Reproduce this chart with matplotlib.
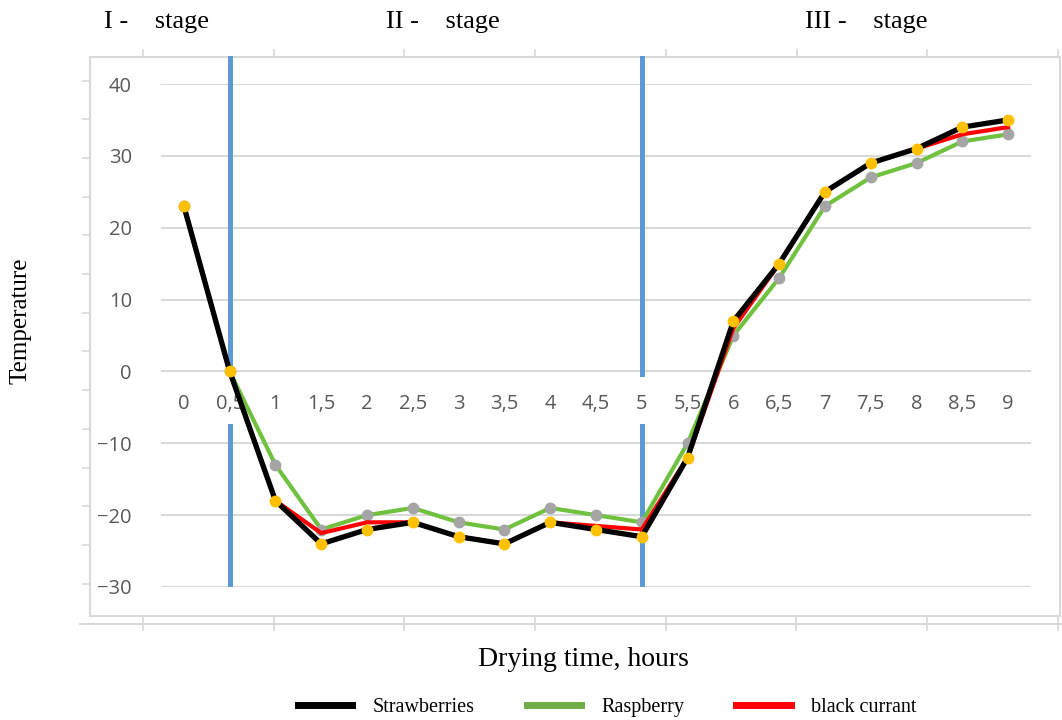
import numpy as np
import matplotlib
matplotlib.use("Agg")
import matplotlib.pyplot as plt
from matplotlib.ticker import FixedLocator

# Drying time categories (hours), Excel style labels with comma
time_labels = ["0", "0,5", "1", "1,5", "2", "2,5", "3", "3,5", "4", "4,5",
               "5", "5,5", "6", "6,5", "7", "7,5", "8", "8,5", "9"]

strawberries = [23, 0, -18, -24, -22, -21, -23, -24, -21, -22,
                -23, -12, 7, 15, 25, 29, 31, 34, 35]
raspberry = [23, 0, -13, -22, -20, -19, -21, -22, -19, -20,
             -21, -10, 5, 13, 23, 27, 29, 32, 33]
black_currant = [23, 0, -18, -22.5, -21, -21, -23, -24, -21, -21.5,
                 -22, -12, 6, 15, 25, 29, 31, 33, 34]

stage_bounds = [1, 10]          # category index of the blue separators
stage_names = ["I -    stage", "II -    stage", "III -    stage"]
y_ticks = [-30, -20, -10, 0, 10, 20, 30, 40]

W, H = 1062, 720
fig = plt.figure(figsize=(W / 100, H / 100), dpi=100)

serif = "Liberation Serif"
grid_col = "#d9d9d9"
lab_col = "#595959"


def px_box(left, top, right, bottom):
    return [left / W, 1 - bottom / H, (right - left) / W, (bottom - top) / H]


# outer frame of the chart object (light gray border with ruler ticks)
frame = fig.add_axes(px_box(90, 57, 1060, 616))
frame.set_xlim(90, 1060)
frame.set_ylim(616, 57)
for s in frame.spines.values():
    s.set_color(grid_col)
    s.set_linewidth(1.5)
frame.xaxis.tick_top()
frame.xaxis.set_major_locator(FixedLocator(np.arange(143, 1061, 130.7)))
frame.yaxis.set_major_locator(FixedLocator(np.arange(80.6, 616, 38.7)))
frame.tick_params(colors=grid_col, length=6, width=1.2, labeltop=False, labelleft=False)

ruler = fig.add_axes(px_box(80, 622, 1062, 623.5))
ruler.set_xlim(80, 1062)
ruler.patch.set_visible(False)
for k in ["top", "left", "right"]:
    ruler.spines[k].set_visible(False)
ruler.spines["bottom"].set_color(grid_col)
ruler.spines["bottom"].set_linewidth(1.5)
ruler.set_yticks([])
ruler.xaxis.set_major_locator(FixedLocator(np.arange(143, 1061, 130.7)))
ruler.tick_params(axis="x", direction="inout", length=10, width=1.2,
                  colors=grid_col, labelbottom=False)

# main plot
ax = fig.add_axes(px_box(161, 84, 1031, 587))
ax.patch.set_visible(False)
x = np.arange(len(time_labels))
ax.set_xlim(-0.5, len(time_labels) - 0.5)
ax.set_ylim(-30, 40)
ax.set_yticks(y_ticks)
ax.yaxis.grid(True, color=grid_col, linewidth=1.5)
ax.set_axisbelow(True)
for k in ["top", "left", "right"]:
    ax.spines[k].set_visible(False)
ax.spines["bottom"].set_position(("data", 0))
ax.spines["bottom"].set_visible(False)
ax.set_xticks(x)
ax.set_xticklabels(time_labels)
ax.tick_params(axis="x", length=0, pad=16, labelsize=14.5, labelcolor=lab_col)
ax.tick_params(axis="y", length=0, pad=21, labelsize=14.5, labelcolor=lab_col)
for t in ax.get_xticklabels() + ax.get_yticklabels():
    t.set_fontfamily("Open Sans")
    t.set_fontweight("medium")

# blue stage separators, broken around the category labels
for b in stage_bounds:
    ax.plot([b, b], [43.6, -0.4], color="#5b9bd5", lw=3.6, clip_on=False, zorder=2)
    ax.plot([b, b], [-7.6, -30], color="#5b9bd5", lw=3.6, zorder=2)

ax.plot(x, raspberry, color="#70c13e", lw=3, zorder=3)
ax.plot(x, raspberry, "o", color="#a5a5a5", ms=7.5, zorder=3)
ax.plot(x, black_currant, color="#ff0000", lw=3, zorder=4)
ax.plot(x, strawberries, color="black", lw=3.8, zorder=5)
ax.plot(x, strawberries, "o", color="#ffc000", ms=7.5, zorder=6)

# stage titles, labels
stage_x = [157 / W, 443 / W, 866 / W]
for sx, name in zip(stage_x, stage_names):
    fig.text(sx, 1 - 22 / H, name, ha="center", va="center",
             fontsize=19, family=serif)

fig.text(583 / W, 1 - 660 / H, "Drying time, hours", ha="center", va="center",
         fontsize=20, family=serif)
fig.text(21 / W, 1 - 321 / H, "Temperature", ha="center", va="center",
         rotation=90, fontsize=18, family=serif)

# legend without markers
h1, = ax.plot([], [], color="black", lw=5)
h2, = ax.plot([], [], color="#70ad47", lw=5)
h3, = ax.plot([], [], color="#ff0000", lw=5)
fig.legend([h1, h2, h3], ["Strawberries", "Raspberry", "black currant"],
           loc="center", bbox_to_anchor=(607 / W, 1 - 707 / H), ncol=3,
           frameon=False, prop={"family": serif, "size": 14.5},
           handlelength=2.7, handletextpad=1.0, columnspacing=2.6)

fig.savefig("out.png", dpi=100)
